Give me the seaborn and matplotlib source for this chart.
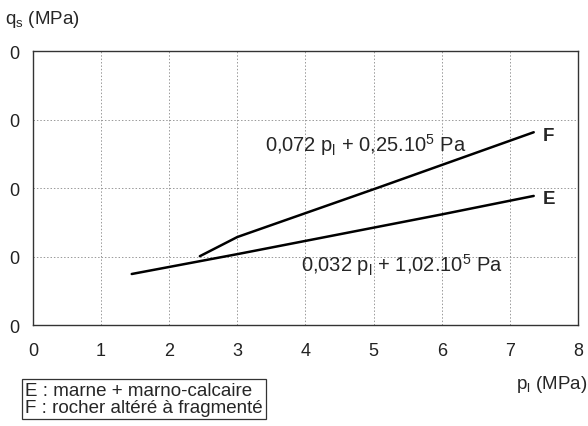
import matplotlib
matplotlib.use("Agg")
import matplotlib.pyplot as plt
import seaborn as sns
import pandas as pd

# data
e_pl = [1.45, 3.0, 6.0, 7.35]
e_qs = [0.149, 0.207, 0.323, 0.377]
f_pl = [2.45, 3.0, 5.05, 7.35]
f_qs = [0.201, 0.257, 0.400, 0.563]
x_ticks = [0, 1, 2, 3, 4, 5, 6, 7, 8]
y_ticks = [0, 0.2, 0.4, 0.6, 0.8]
y_labels = ["0", "0", "0", "0", "0"]

df = pd.concat([
    pd.DataFrame({"pl": e_pl, "qs": e_qs, "sol": "E"}),
    pd.DataFrame({"pl": f_pl, "qs": f_qs, "sol": "F"}),
])

sns.set_style("white")
plt.rcParams["font.family"] = ["Liberation Sans", "DejaVu Sans"]
plt.rcParams["mathtext.fontset"] = "custom"
plt.rcParams["mathtext.rm"] = "Liberation Sans"
plt.rcParams["mathtext.it"] = "Liberation Sans"

FS = 13.5

fig = plt.figure(figsize=(5.88, 4.27), dpi=100)
ax = fig.add_axes([0.056, 0.2365, 0.927, 0.6415])

sns.lineplot(data=df, x="pl", y="qs", hue="sol", palette={"E": "black", "F": "black"},
             linewidth=1.8, legend=False, ax=ax)

ax.set_xlim(0, 8)
ax.set_ylim(0, 0.8)
ax.set_xticks(x_ticks)
ax.set_yticks(y_ticks)
ax.set_yticklabels(y_labels)
ax.tick_params(axis="both", length=0, labelsize=FS - 0.5, colors="#222222")
ax.tick_params(axis="x", pad=12)
ax.tick_params(axis="y", pad=10)
ax.grid(True, linestyle=(0, (1.5, 2)), color="#999999", linewidth=0.7)
for s in ax.spines.values():
    s.set_color("#333333")
    s.set_linewidth(1.0)
ax.set_xlabel("")
ax.set_ylabel("")

fig.text(0.008, 0.955, r"$\mathregular{q_s}$ (MPa)", fontsize=FS, va="center", ha="left")
fig.text(0.998, 0.1, r"$\mathregular{p_l}$ (MPa)", fontsize=FS, va="center", ha="right")

ax.text(3.4, 0.528, r"0,072 $\mathregular{p_l}$ + 0,25.10$\mathregular{^5}$ Pa", fontsize=FS + 1, ha="left", va="center")
ax.text(3.94, 0.178, r"0,032 $\mathregular{p_l}$ + 1,02.10$\mathregular{^5}$ Pa", fontsize=FS + 1, ha="left", va="center")
ax.text(7.48, 0.553, "F", fontsize=FS, fontweight="bold", ha="left", va="center")
ax.text(7.48, 0.37, "E", fontsize=FS, fontweight="bold", ha="left", va="center")

fig.text(0.043, 0.063, "E : marne + marno-calcaire\nF : rocher altéré à fragmenté",
         fontsize=FS, ha="left", va="center", linespacing=1.05,
         bbox=dict(boxstyle="square,pad=0.15", fc="white", ec="#333333", lw=0.9))

fig.savefig("out.png", dpi=100)
